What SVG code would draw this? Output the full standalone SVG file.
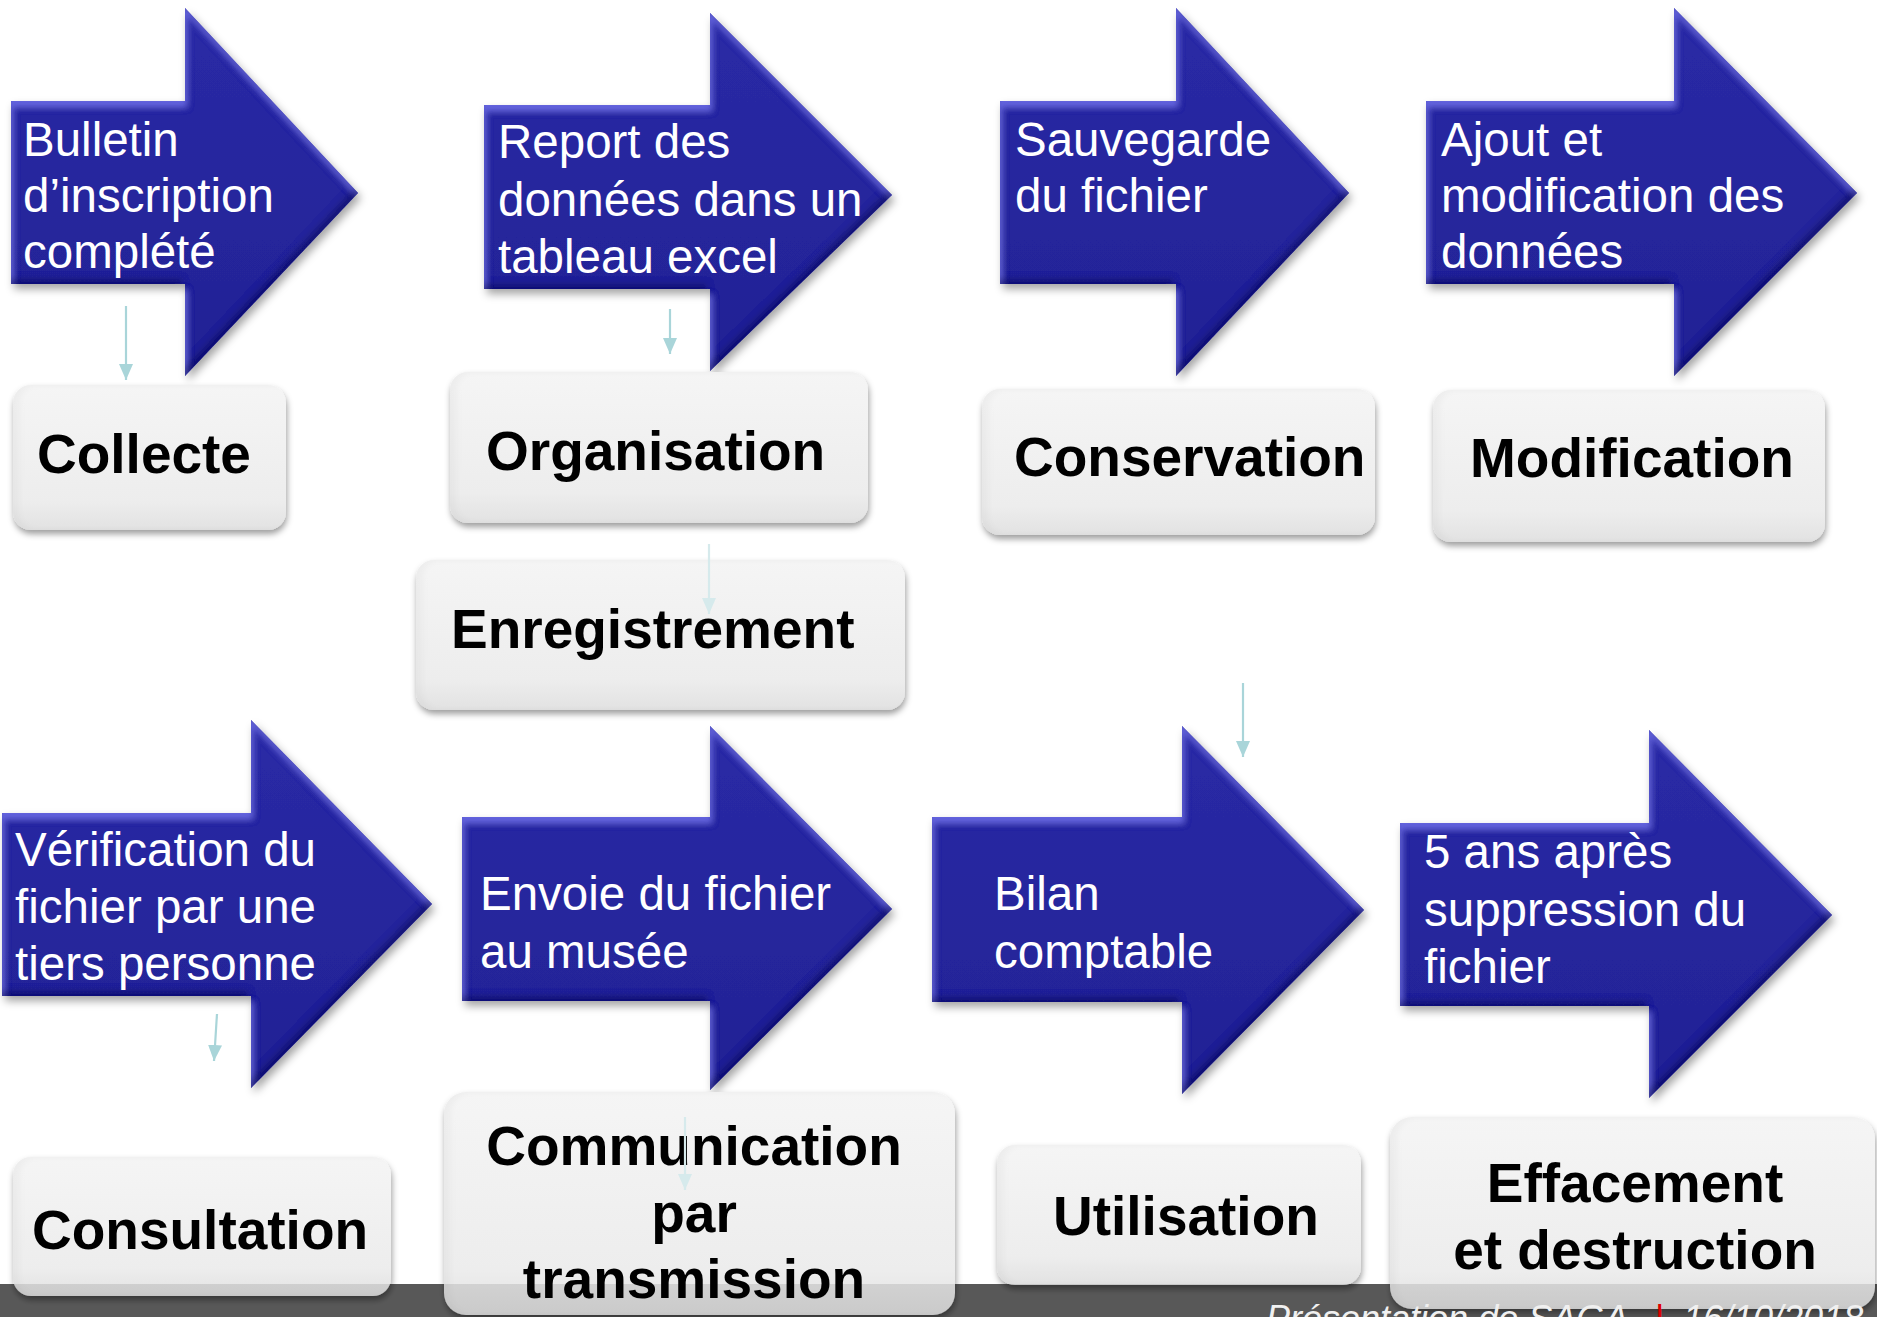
<svg xmlns="http://www.w3.org/2000/svg" width="1877" height="1317" viewBox="0 0 1877 1317">
<defs>
<style>
.arr{fill:url(#ag);filter:url(#bev);}
.at{font-family:"Liberation Sans",Arial,sans-serif;font-size:47.5px;fill:#ffffff;}
.box{fill:url(#bg);filter:url(#bshadow);}
.bt{font-family:"Liberation Sans",Arial,sans-serif;font-size:55px;font-weight:bold;fill:#000000;}
.con{stroke:#a9d5d9;stroke-width:2.2;fill:none;marker-end:url(#ah);}
.faint{stroke:#d6eaec;marker-end:url(#ahf);}
.ft{font-family:"Liberation Sans",Arial,sans-serif;font-size:36px;font-style:italic;fill:#f0f0f0;}
</style>
<linearGradient id="ag" x1="0" y1="0" x2="0" y2="1">
<stop offset="0" stop-color="#2a2aa6"/>
<stop offset="1" stop-color="#222294"/>
</linearGradient>
<linearGradient id="bg" x1="0" y1="0" x2="0" y2="1">
<stop offset="0" stop-color="#f5f5f5"/>
<stop offset="0.8" stop-color="#ededed"/>
<stop offset="1" stop-color="#e2e2e2"/>
</linearGradient>
<filter id="bev" x="-10%" y="-10%" width="125%" height="125%">
<feGaussianBlur in="SourceAlpha" stdDeviation="3" result="blur"/>
<feOffset in="blur" dx="2" dy="6" result="dn"/>
<feComposite in="SourceAlpha" in2="dn" operator="out" result="topEdge"/>
<feFlood flood-color="#6a6ae6" flood-opacity="0.9" result="c1"/>
<feComposite in="c1" in2="topEdge" operator="in" result="hi"/>
<feOffset in="blur" dx="-3" dy="-5" result="up"/>
<feComposite in="SourceAlpha" in2="up" operator="out" result="botEdge"/>
<feFlood flood-color="#0a0a48" flood-opacity="0.55" result="c2"/>
<feComposite in="c2" in2="botEdge" operator="in" result="lo"/>
<feGaussianBlur in="SourceAlpha" stdDeviation="4" result="blur2"/>
<feOffset in="blur2" dx="3" dy="5" result="sh0"/>
<feFlood flood-color="#000000" flood-opacity="0.35" result="c3"/>
<feComposite in="c3" in2="sh0" operator="in" result="sh"/>
<feMerge><feMergeNode in="sh"/><feMergeNode in="SourceGraphic"/><feMergeNode in="hi"/><feMergeNode in="lo"/></feMerge>
</filter>
<filter id="bshadow" x="-10%" y="-10%" width="125%" height="130%">
<feGaussianBlur in="SourceAlpha" stdDeviation="3" result="blur"/>
<feOffset in="blur" dx="6" dy="0" result="rt"/>
<feComposite in="SourceAlpha" in2="rt" operator="out" result="leftEdge"/>
<feFlood flood-color="#000000" flood-opacity="0.07" result="c1"/>
<feComposite in="c1" in2="leftEdge" operator="in" result="le"/>
<feOffset in="blur" dx="1" dy="4" result="sh0"/>
<feFlood flood-color="#000000" flood-opacity="0.38" result="c2"/>
<feComposite in="c2" in2="sh0" operator="in" result="sh"/>
<feMerge><feMergeNode in="sh"/><feMergeNode in="SourceGraphic"/><feMergeNode in="le"/></feMerge>
</filter>
<marker id="ah" viewBox="0 0 16 14" refX="16" refY="7" markerWidth="16" markerHeight="14" markerUnits="userSpaceOnUse" orient="auto">
<path d="M0,0 L16,7 L0,14 Z" fill="#a9d5d9"/>
</marker>
<marker id="ahf" viewBox="0 0 16 14" refX="16" refY="7" markerWidth="16" markerHeight="14" markerUnits="userSpaceOnUse" orient="auto">
<path d="M0,0 L16,7 L0,14 Z" fill="#d6eaec"/>
</marker>
</defs>
<rect x="0" y="0" width="1877" height="1317" fill="#ffffff"/>
<rect id="footer-bar" x="0" y="1284" width="1877" height="33" fill="#636363"/>

<g id="arrow-bulletin">
<path class="arr" d="M11,101 H185 V8 L358,193 L185,376 V284 H11 Z"/>
<text class="at" x="23" y="156">Bulletin</text>
<text class="at" x="23" y="212">d’inscription</text>
<text class="at" x="23" y="268">complété</text>
</g>
<g id="arrow-report">
<path class="arr" d="M484,105 H710 V13 L892,195 L710,371 V289 H484 Z"/>
<text class="at" x="498" y="158">Report des</text>
<text class="at" x="498" y="216">données dans un</text>
<text class="at" x="498" y="273">tableau excel</text>
</g>
<g id="arrow-sauvegarde">
<path class="arr" d="M1000,101 H1176 V8 L1349,193 L1176,376 V284 H1000 Z"/>
<text class="at" x="1015" y="156">Sauvegarde</text>
<text class="at" x="1015" y="212">du fichier</text>
</g>
<g id="arrow-ajout">
<path class="arr" d="M1426,101 H1674 V8 L1857,193 L1674,376 V284 H1426 Z"/>
<text class="at" x="1441" y="156">Ajout et</text>
<text class="at" x="1441" y="212">modification des</text>
<text class="at" x="1441" y="268">données</text>
</g>
<g id="arrow-verification">
<path class="arr" d="M2,813 H251 V720 L432,904 L251,1088 V996 H2 Z"/>
<text class="at" x="15" y="866">Vérification du</text>
<text class="at" x="15" y="923">fichier par une</text>
<text class="at" x="15" y="980">tiers personne</text>
</g>
<g id="arrow-envoie">
<path class="arr" d="M462,817 H710 V726 L892,909 L710,1090 V1001 H462 Z"/>
<text class="at" x="480" y="910">Envoie du fichier</text>
<text class="at" x="480" y="968">au musée</text>
</g>
<g id="arrow-bilan">
<path class="arr" d="M932,817 H1182 V726 L1364,910 L1182,1094 V1002 H932 Z"/>
<text class="at" x="994" y="910">Bilan</text>
<text class="at" x="994" y="968">comptable</text>
</g>
<g id="arrow-suppression">
<path class="arr" d="M1400,823 H1649 V730 L1832,915 L1649,1098 V1006 H1400 Z"/>
<text class="at" x="1424" y="868">5 ans après</text>
<text class="at" x="1424" y="926">suppression du</text>
<text class="at" x="1424" y="983">fichier</text>
</g>

<g id="box-collecte">
<rect class="box" x="13" y="385" width="273" height="145" rx="18"/>
<text class="bt" x="37" y="473">Collecte</text>
</g>
<g id="box-organisation">
<rect class="box" x="450" y="372" width="418" height="151" rx="18"/>
<text class="bt" x="486" y="470">Organisation</text>
</g>
<g id="box-enregistrement">
<rect class="box" x="416" y="560" width="489" height="150" rx="18"/>
<text class="bt" x="451" y="648">Enregistrement</text>
</g>
<g id="box-conservation">
<rect class="box" x="982" y="389" width="393" height="146" rx="18"/>
<text class="bt" x="1014" y="476">Conservation</text>
</g>
<g id="box-modification">
<rect class="box" x="1433" y="390" width="392" height="152" rx="18"/>
<text class="bt" x="1470" y="477">Modification</text>
</g>
<g id="box-consultation">
<rect class="box" x="13" y="1157" width="378" height="139" rx="18"/>
<text class="bt" x="32" y="1249">Consultation</text>
</g>
<g id="box-communication">
<rect class="box" x="444" y="1092" width="511" height="223" rx="22"/>
<text class="bt" x="694" y="1165" text-anchor="middle">Communication</text>
<text class="bt" x="694" y="1232" text-anchor="middle">par</text>
<text class="bt" x="694" y="1298" text-anchor="middle">transmission</text>
</g>
<g id="box-utilisation">
<rect class="box" x="997" y="1145" width="364" height="140" rx="18"/>
<text class="bt" x="1053" y="1235">Utilisation</text>
</g>
<g id="box-effacement">
<rect class="box" x="1390" y="1117" width="485" height="192" rx="22"/>
<text class="bt" x="1635" y="1202" text-anchor="middle">Effacement</text>
<text class="bt" x="1635" y="1269" text-anchor="middle">et destruction</text>
</g>

<rect x="0" y="1284" width="1877" height="33" fill="#000000" opacity="0.1"/>

<g id="connectors">
<line class="con" x1="126" y1="306" x2="126" y2="380"/>
<line class="con" x1="670" y1="309" x2="670" y2="354"/>
<line class="con faint" x1="709" y1="544" x2="709" y2="614"/>
<line class="con" x1="1243" y1="683" x2="1243" y2="757"/>
<line class="con" x1="217" y1="1014" x2="214" y2="1061"/>
<line class="con faint" x1="685" y1="1117" x2="685" y2="1190"/>
</g>

<g id="footer">
<text class="ft" x="1266" y="1331">Présentation de SAGA</text>
<text x="1655" y="1331" font-family="Liberation Sans, Arial, sans-serif" font-size="36" fill="#e00000">|</text>
<text class="ft" x="1683" y="1331">16/10/2018</text>
</g>
</svg>
